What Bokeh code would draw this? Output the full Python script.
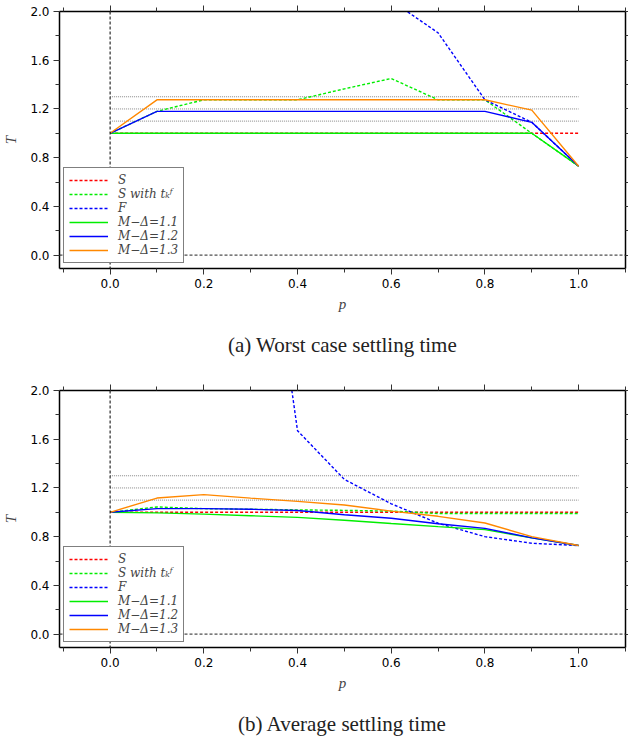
from bokeh.plotting import figure
from bokeh.models import (LinearAxis, SingleIntervalTicker, PrintfTickFormatter, Span,
                          Legend, LegendItem, Title, Range1d, CustomJSTickFormatter)
from bokeh.layouts import column
from bokeh.embed import file_html
from bokeh.resources import INLINE

# ---------------- data ----------------
p_vals = [0.0, 0.1, 0.2, 0.3, 0.4, 0.5, 0.6, 0.7, 0.8, 0.9, 1.0]
thresholds = [1.1, 1.2, 1.3]

# (a) worst case settling time
wc_S = [1.0, 1.0, 1.0, 1.0, 1.0, 1.0, 1.0, 1.0, 1.0, 1.0, 1.0]
wc_S_tk = [1.0, 1.18, 1.275, 1.275, 1.275, 1.365, 1.45, 1.275, 1.275, 1.0, 0.73]
wc_F_p = [0.6, 0.7, 0.8, 0.9, 1.0]
wc_F = [2.09, 1.825, 1.275, 1.09, 0.73]
wc_M11 = [1.0, 1.0, 1.0, 1.0, 1.0, 1.0, 1.0, 1.0, 1.0, 1.0, 0.73]
wc_M12 = [1.0, 1.18, 1.18, 1.18, 1.18, 1.18, 1.18, 1.18, 1.18, 1.09, 0.73]
wc_M13 = [1.0, 1.275, 1.275, 1.275, 1.275, 1.275, 1.275, 1.275, 1.275, 1.19, 0.73]

# (b) average settling time
av_S = [1.0, 1.0, 1.0, 1.0, 1.0, 1.0, 1.0, 1.0, 1.0, 1.0, 1.0]
av_S_tk = [1.0, 1.044, 1.03, 1.025, 1.02, 1.016, 1.01, 0.99, 0.99, 0.99, 0.99]
av_F_p = [0.3, 0.4, 0.5, 0.6, 0.7, 0.8, 0.9, 1.0]
av_F = [4.4, 1.67, 1.27, 1.07, 0.91, 0.80, 0.746, 0.727]
av_M11 = [1.0, 0.995, 0.985, 0.972, 0.958, 0.935, 0.908, 0.882, 0.858, 0.79, 0.727]
av_M12 = [1.0, 1.03, 1.03, 1.025, 1.015, 0.98, 0.951, 0.906, 0.868, 0.79, 0.727]
av_M13 = [1.0, 1.117, 1.145, 1.116, 1.09, 1.06, 1.01, 0.967, 0.912, 0.80, 0.727]

labels = ["S", "S with t\u2096\u1da0", "F", "M\u2212\u0394=1.1", "M\u2212\u0394=1.2", "M\u2212\u0394=1.3"]
colors = ["#ff0000", "#00ee00", "#0000ff", "#00ee00", "#0000ff", "#ff8800"]
dashes = ["3 2", "3 2", "3 2", "solid", "solid", "solid"]

TICK_FONT = "DejaVu Sans"
SERIF = "Liberation Serif"


def make_panel(caption, S, S_tk, F_p, F, M11, M12, M13, bottom_border):
    p = figure(x_range=Range1d(-0.108, 1.1), y_range=Range1d(-0.11, 2.0),
               frame_width=566, frame_height=257,
               output_backend="svg", toolbar_location=None,
               min_border_left=56, min_border_right=0, min_border_top=11,
               min_border_bottom=bottom_border)
    p.grid.visible = False
    p.outline_line_color = None
    p.background_fill_color = "white"

    # extra axes (ticks only)
    p.add_layout(LinearAxis(), "above")
    p.add_layout(LinearAxis(), "right")

    for ax in p.xaxis:
        ax.ticker = SingleIntervalTicker(interval=0.2, num_minor_ticks=2)
    for ax in p.yaxis:
        ax.ticker = SingleIntervalTicker(interval=0.4, num_minor_ticks=2)
    for ax in p.axis:
        ax.formatter = PrintfTickFormatter(format="%.1f")
        ax.axis_line_color = "black"
        ax.axis_line_width = 1.5
        ax.major_tick_in = 0
        ax.major_tick_out = 6
        ax.minor_tick_in = 0
        ax.minor_tick_out = 4
        ax.major_tick_line_color = "#333333"
        ax.minor_tick_line_color = "#333333"
        ax.major_label_text_font = TICK_FONT
        ax.major_label_text_font_size = "12px"
        ax.major_label_text_color = "black"
        ax.major_label_standoff = 4
    for ax in (p.above[0], p.right[0]):
        ax.formatter = CustomJSTickFormatter(code="return ''")
        ax.major_label_standoff = 0

    p.below[0].axis_label = "p"
    p.left[0].axis_label = "T"
    for ax in (p.below[0], p.left[0]):
        ax.axis_label_text_font = SERIF
        ax.axis_label_text_font_style = "italic"
        ax.axis_label_text_font_size = "15px"
    p.below[0].axis_label_standoff = 5
    p.left[0].axis_label_standoff = 8

    # reference lines
    p.add_layout(Span(location=0, dimension="height", line_color="black",
                      line_dash="3 2", line_width=1))
    p.add_layout(Span(location=0, dimension="width", line_color="#222222",
                      line_dash="3 2", line_width=1))
    p.segment(x0=[p_vals[0]] * len(thresholds), x1=[p_vals[-1]] * len(thresholds),
              y0=thresholds, y1=thresholds, line_color="#888888",
              line_dash="1 1", line_width=1)

    series = [(p_vals, S), (p_vals, S_tk), (F_p, F), (p_vals, M11), (p_vals, M12), (p_vals, M13)]
    items = []
    for (xs, ys), lab, col, dsh in zip(series, labels, colors, dashes):
        r = p.line(xs, ys, line_color=col, line_width=1.4, line_dash=dsh)
        items.append(LegendItem(label=lab, renderers=[r]))

    leg = Legend(items=items, location=(4, 5), margin=0, padding=5, spacing=0,
                 glyph_width=39, glyph_height=12, label_height=12,
                 label_standoff=10,
                 label_text_font="DejaVu Serif", label_text_font_style="italic",
                 label_text_font_size="12px",
                 border_line_color="black", border_line_width=1,
                 background_fill_color="white", background_fill_alpha=1.0)
    p.add_layout(leg)

    p.add_layout(Title(text=caption, align="center", text_font=SERIF,
                       text_font_size="21px", text_font_style="normal",
                       text_color="#222222", standoff=33), "below")
    return p


pa = make_panel("(a) Worst case settling time", wc_S, wc_S_tk, wc_F_p, wc_F,
                wc_M11, wc_M12, wc_M13, 111)
pb = make_panel("(b) Average settling time", av_S, av_S_tk, av_F_p, av_F,
                av_M11, av_M12, av_M13, 0)

layout = column(pa, pb, spacing=0)
open("out.html", "w").write(file_html(layout, INLINE))
